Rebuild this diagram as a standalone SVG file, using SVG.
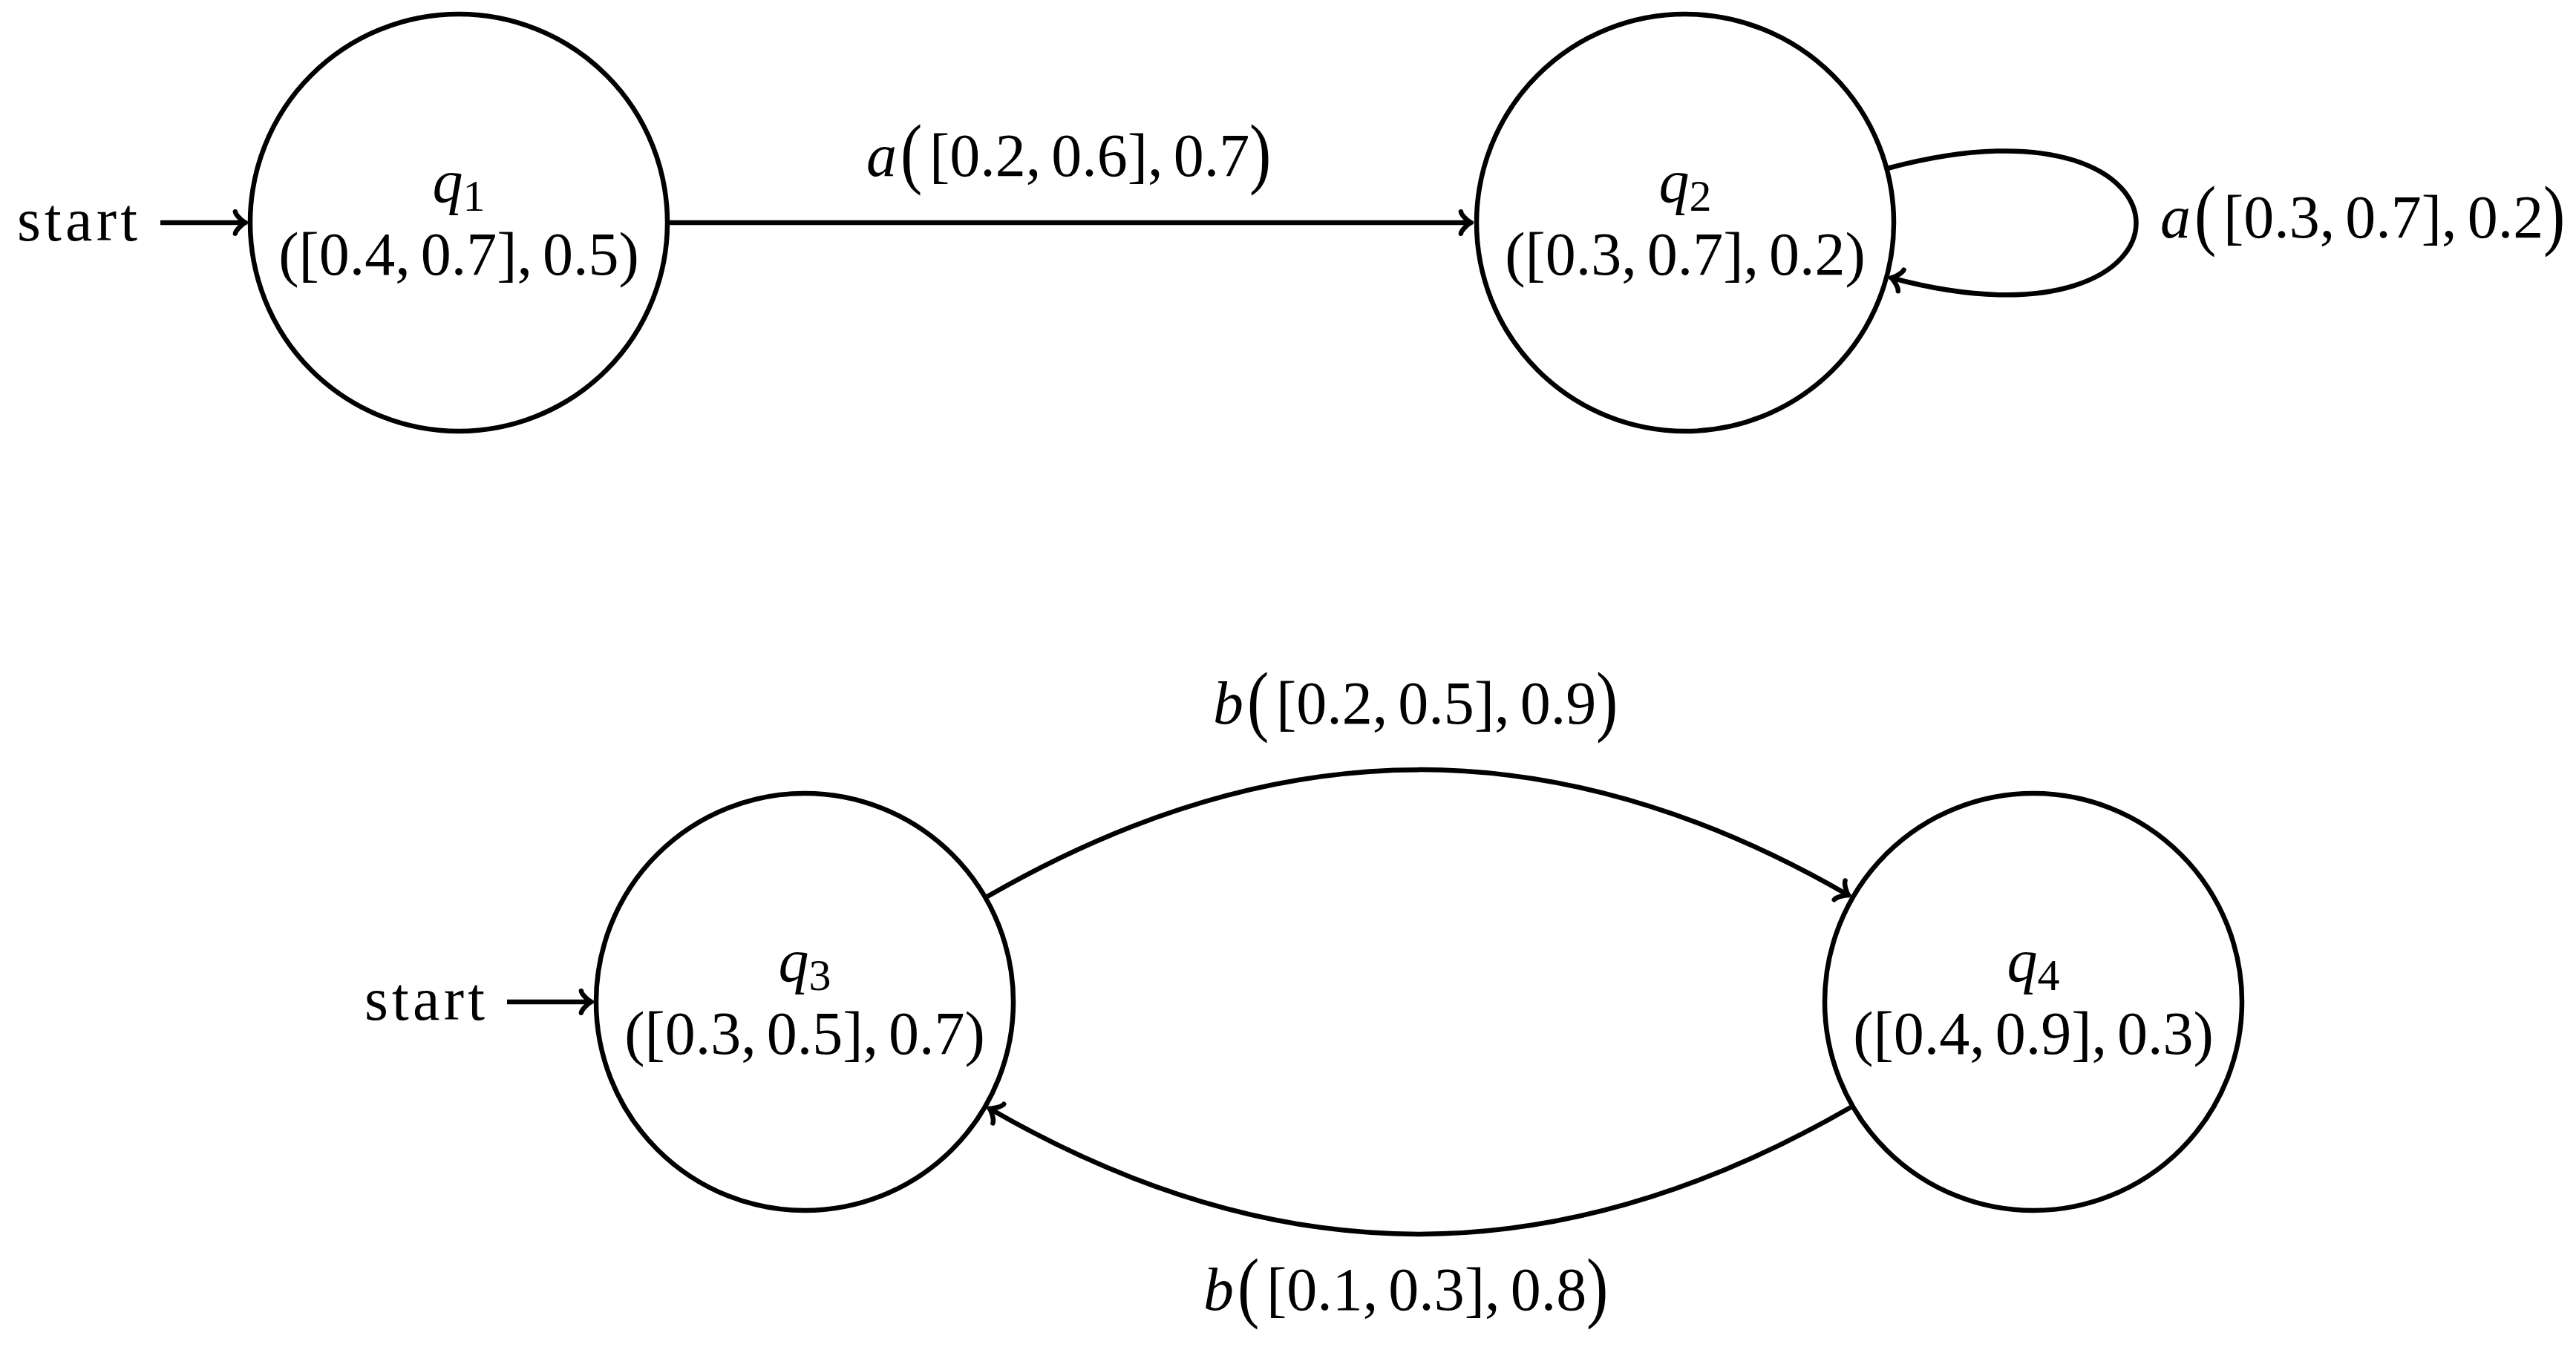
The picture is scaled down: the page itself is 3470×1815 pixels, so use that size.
<svg xmlns="http://www.w3.org/2000/svg" width="3470" height="1815" viewBox="0 0 3470 1815">
  <defs>
    <style>
      .node circle { fill: none; stroke: #000; stroke-width: 6.5; }
      .edge { fill: none; stroke: #000; stroke-width: 6.5; marker-end: url(#to); }
      text { font-family: "Liberation Serif", "Times New Roman", serif; font-size: 82px; fill: #000; }
      .it { font-style: italic; }
      .sub { font-size: 60px; }
      .big { font-size: 88px; }
    </style>
    <marker id="to" markerUnits="userSpaceOnUse" viewBox="-18 -22 30 44" markerWidth="30" markerHeight="44" refX="2" refY="0" orient="auto" overflow="visible">
      <path d="M -11.1 -14.8 C -10.2 -9.25 0 -0.93 2.8 0 C 0 0.93 -10.2 9.25 -11.1 14.8" fill="none" stroke="#000" stroke-width="6.5" stroke-linecap="round" stroke-linejoin="round"/>
    </marker>
  </defs>
  <rect x="0" y="0" width="3470" height="1815" fill="#fff"/>

  <g id="connectors">
    <g id="start-q1">
      <text x="185" y="324" text-anchor="end" textLength="162" lengthAdjust="spacing">start</text>
      <path class="edge" d="M 216 300 L 330 300"/>
    </g>
    <g id="start-q3">
      <text x="653" y="1374" text-anchor="end" textLength="162" lengthAdjust="spacing">start</text>
      <path class="edge" d="M 683 1350 L 796 1350"/>
    </g>
    <g id="q1-q2">
      <path class="edge" d="M 902 300 L 1981 300"/>
      <text x="1167" y="237" class="it">a</text>
      <text class="big" transform="translate(1213 241) scale(1 1.2)">(</text>
      <text x="1252" y="237">[0.2,<tspan dx="14">0.6],</tspan><tspan dx="14">0.7</tspan></text>
      <text class="big" transform="translate(1683 241) scale(1 1.2)">)</text>
    </g>
    <g id="q2-q2">
      <path class="edge" d="M 2544 226.5 C 2988 107.5 2988 492.5 2548 374.5"/>
      <text x="2910" y="320" class="it">a</text>
      <text class="big" transform="translate(2956 324) scale(1 1.2)">(</text>
      <text x="2995" y="320">[0.3,<tspan dx="14">0.7],</tspan><tspan dx="14">0.2</tspan></text>
      <text class="big" transform="translate(3426 324) scale(1 1.2)">)</text>
    </g>
    <g id="q3-q4">
      <path class="edge" d="M 1330 1208 C 1724 980.5 2099 980.5 2489.5 1206"/>
      <text x="1634" y="975" class="it">b</text>
      <text class="big" transform="translate(1680 979) scale(1 1.2)">(</text>
      <text x="1719" y="975">[0.2,<tspan dx="14">0.5],</tspan><tspan dx="14">0.9</tspan></text>
      <text class="big" transform="translate(2150 979) scale(1 1.2)">)</text>
    </g>
    <g id="q4-q3">
      <path class="edge" d="M 2493 1492 C 2099 1719.5 1724 1719.5 1333.5 1494"/>
      <text x="1621" y="1765" class="it">b</text>
      <text class="big" transform="translate(1667 1769) scale(1 1.2)">(</text>
      <text x="1706" y="1765">[0.1,<tspan dx="14">0.3],</tspan><tspan dx="14">0.8</tspan></text>
      <text class="big" transform="translate(2137 1769) scale(1 1.2)">)</text>
    </g>
  </g>

  <g id="q1" class="node">
    <circle cx="618" cy="300" r="281"/>
    <text x="618" y="272" text-anchor="middle"><tspan class="it">q</tspan><tspan class="sub" dy="12">1</tspan></text>
    <text x="618" y="370" text-anchor="middle">([0.4,<tspan dx="14">0.7],</tspan><tspan dx="14">0.5)</tspan></text>
  </g>
  <g id="q2" class="node">
    <circle cx="2270" cy="300" r="281"/>
    <text x="2270" y="272" text-anchor="middle"><tspan class="it">q</tspan><tspan class="sub" dy="12">2</tspan></text>
    <text x="2270" y="370" text-anchor="middle">([0.3,<tspan dx="14">0.7],</tspan><tspan dx="14">0.2)</tspan></text>
  </g>
  <g id="q3" class="node">
    <circle cx="1084" cy="1350" r="281"/>
    <text x="1084" y="1322" text-anchor="middle"><tspan class="it">q</tspan><tspan class="sub" dy="12">3</tspan></text>
    <text x="1084" y="1420" text-anchor="middle">([0.3,<tspan dx="14">0.5],</tspan><tspan dx="14">0.7)</tspan></text>
  </g>
  <g id="q4" class="node">
    <circle cx="2739" cy="1350" r="281"/>
    <text x="2739" y="1322" text-anchor="middle"><tspan class="it">q</tspan><tspan class="sub" dy="12">4</tspan></text>
    <text x="2739" y="1420" text-anchor="middle">([0.4,<tspan dx="14">0.9],</tspan><tspan dx="14">0.3)</tspan></text>
  </g>
</svg>
